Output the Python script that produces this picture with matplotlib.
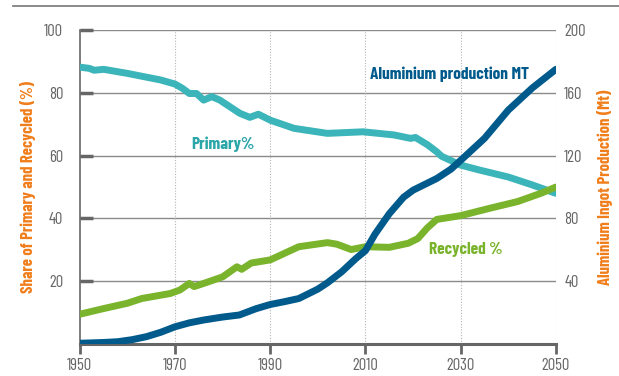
import matplotlib
matplotlib.use("Agg")
import matplotlib.pyplot as plt
from matplotlib.lines import Line2D

plt.rcParams["font.family"] = ["Barlow Condensed", "Roboto Condensed", "DejaVu Sans"]

# ---- data
primary_years = [1950, 1952, 1953, 1955, 1960, 1967, 1970, 1971.5, 1973, 1974.5, 1976,
                 1977.7, 1979.4, 1983.6, 1985.7, 1987.5, 1990, 1995, 2002, 2009.5, 2016,
                 2019.5, 2020.5, 2023, 2025, 2026, 2030, 2034, 2040, 2045, 2050]
primary_share = [88.2, 87.8, 87.2, 87.5, 86.2, 84.1, 82.8, 81.5, 79.8, 79.8, 77.7,
                 78.8, 77.7, 73.5, 72.2, 73.2, 71.3, 68.7, 67.1, 67.6, 66.6,
                 65.5, 65.8, 63.5, 61.2, 59.8, 57.0, 55.4, 53.2, 50.7, 48.0]

recycled_years = [1950, 1955, 1960, 1963, 1969, 1971, 1973, 1974, 1976, 1980, 1983, 1984,
                  1986, 1990, 1996, 2002, 2004, 2007, 2010, 2015, 2019, 2021, 2023,
                  2025, 2030, 2036, 2042, 2047, 2050]
recycled_share = [9.5, 11.3, 13.0, 14.5, 16.1, 17.2, 19.3, 18.3, 19.3, 21.4, 24.6, 23.8,
                  25.8, 26.8, 31.0, 32.3, 31.8, 30.1, 31.0, 30.8, 32.1, 33.6, 37.0,
                  39.7, 40.9, 43.2, 45.4, 48.1, 50.0]

prod_years = [1950, 1955, 1958, 1961, 1964, 1967, 1970, 1973, 1976, 1980, 1983.5, 1987,
              1990, 1993, 1996, 2000, 2002, 2005, 2008, 2010, 2012, 2015, 2018, 2020,
              2023, 2025, 2028, 2030, 2035, 2040, 2045, 2050]
prod_mt = [0.5, 1.0, 1.5, 2.8, 4.7, 7.5, 11.0, 13.5, 15.3, 17.2, 18.5, 22.5,
           25.2, 27.0, 29.0, 35.0, 39.0, 46.0, 54.5, 59.5, 70.0, 83.0, 93.5, 98.0,
           102.5, 105.5, 111.5, 117.0, 131.0, 149.0, 163.0, 175.0]

x_ticks = [1950, 1970, 1990, 2010, 2030, 2050]
left_ticks = [20, 40, 60, 80, 100]
right_ticks = [40, 80, 120, 160, 200]

TEAL = "#3bb5b9"
GREEN = "#7ab42d"
BLUE = "#005a8c"
ORANGE = "#f07d1a"
GRID = "#8a8a8a"
TICK = "#666666"

fig = plt.figure(figsize=(6.19, 3.76), dpi=100)
ax = fig.add_axes([0.129, 0.085, 0.769, 0.835])
ax2 = ax.twinx()

# grid
for v in left_ticks:
    ax.axhline(v, color=GRID, lw=1.0, zorder=1)
for yr in x_ticks[1:]:
    ax.axvline(yr, color="#b5b5b5", lw=0.8, ls=(0, (1, 1.5)), zorder=1)

line_kw = dict(lw=5, solid_capstyle="round", solid_joinstyle="round")
ax.plot(primary_years, primary_share, color=TEAL, zorder=3, **line_kw)
ax.plot(recycled_years, recycled_share, color=GREEN, zorder=3, **line_kw)
ax2.plot(prod_years, prod_mt, color=BLUE, zorder=4, **line_kw)

ax.set_xlim(1950, 2050)
ax.set_ylim(0, 100)
ax2.set_ylim(0, 200)

ax.set_xticks(x_ticks)
ax.set_yticks(left_ticks)
ax2.set_yticks(right_ticks)
ax.tick_params(axis="x", length=7, width=2, color=TICK, labelcolor=TICK,
               labelsize=12, pad=3)
ax.tick_params(axis="y", length=9, width=2.5, color=TICK, labelcolor=TICK,
               labelsize=12, direction="in", pad=12)
ax2.tick_params(axis="y", length=0, labelcolor=TICK, labelsize=12, pad=6)

for a in (ax, ax2):
    for s in ("top", "right"):
        a.spines[s].set_visible(False)
ax2.spines["left"].set_visible(False)
ax2.spines["bottom"].set_visible(False)
ax.spines["left"].set_color(TICK)
ax.spines["left"].set_linewidth(1.2)
ax.spines["bottom"].set_color(TICK)
ax.spines["bottom"].set_linewidth(2.2)

ax.set_ylabel("Share of Primary and Recycled (%)", color=ORANGE, fontsize=12,
              fontweight="bold", labelpad=6)
ax2.set_ylabel("Aluminium Ingot Production (Mt)", color=ORANGE, fontsize=12,
               fontweight="bold", labelpad=8)

ax.text(2011, 86, "Aluminium production MT", color=BLUE, fontsize=12.5,
        fontweight="bold", ha="left", va="center", zorder=5)
ax.text(1980, 63.7, "Primary%", color="#2aa5a8", fontsize=12.5, fontweight="bold",
        ha="center", va="center")
ax.text(2031, 30, "Recycled %", color=GREEN, fontsize=12.5, fontweight="bold",
        ha="center", va="center")

# rule across the top of the figure
fig.add_artist(Line2D([0.021, 1.0], [0.985, 0.985], color="#777777", lw=1.2))

fig.savefig("out.png", dpi=100)
